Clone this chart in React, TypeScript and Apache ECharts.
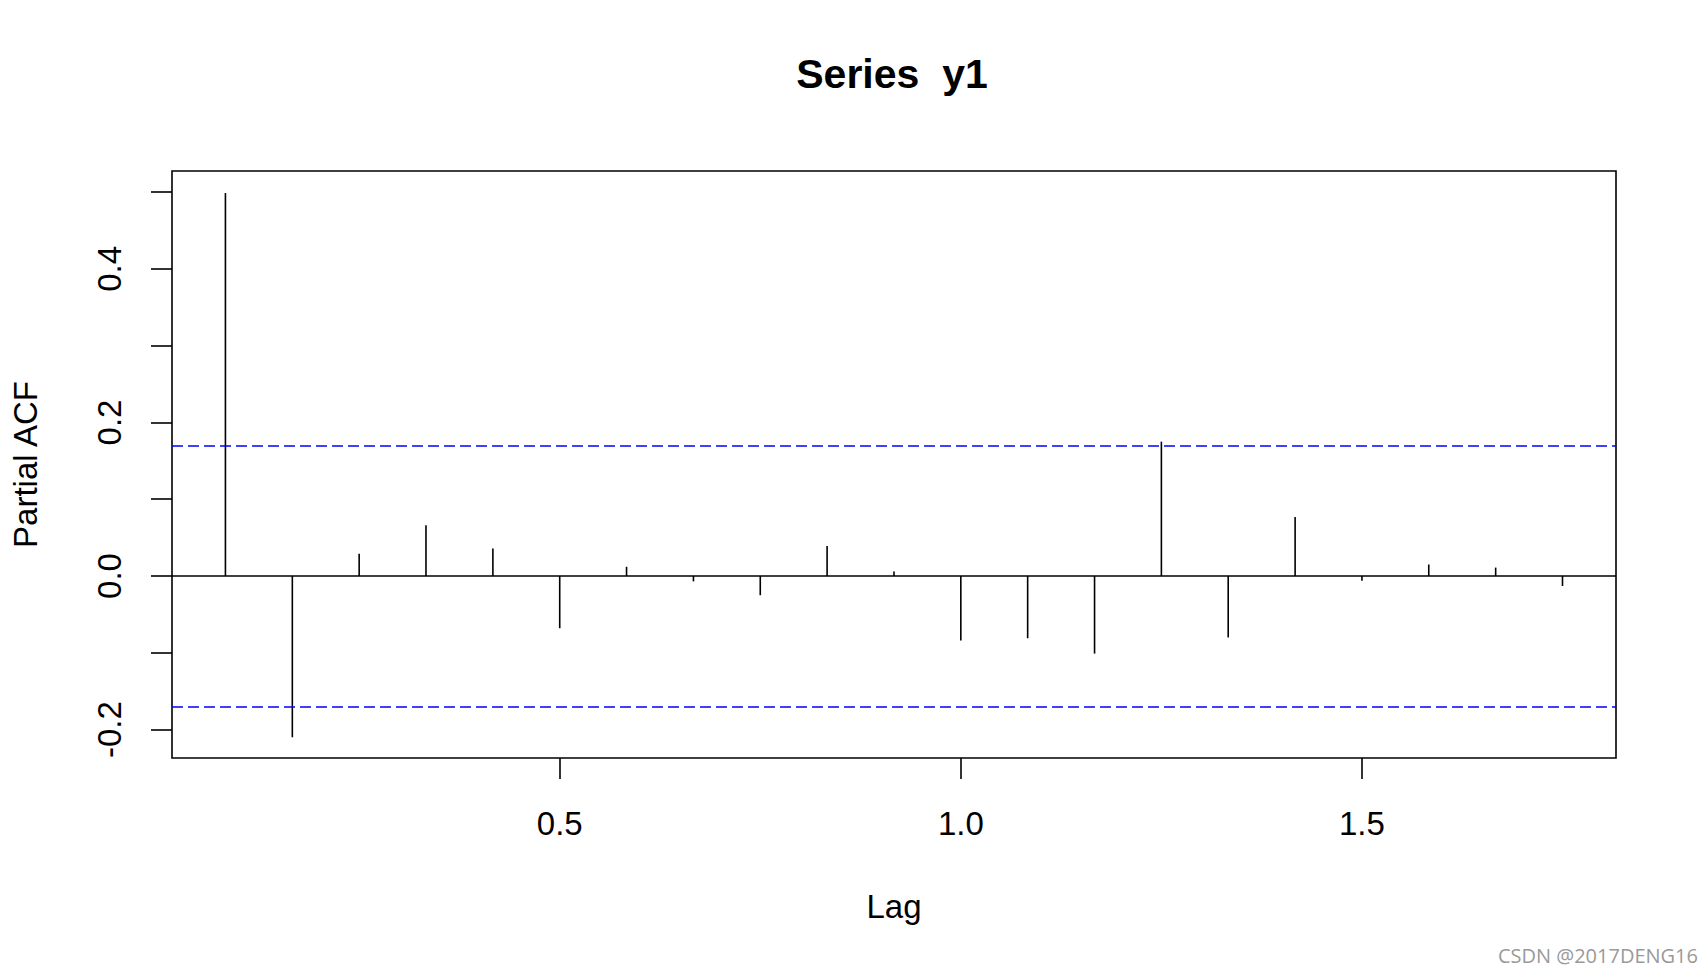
import React, { useEffect, useRef } from "react";
import * as echarts from "echarts";

const LAGS = [
  0.0833, 0.1667, 0.25, 0.3333, 0.4167, 0.5, 0.5833, 0.6667, 0.75, 0.8333, 0.9167,
  1.0, 1.0833, 1.1667, 1.25, 1.3333, 1.4167, 1.5, 1.5833, 1.6667, 1.75,
];
const PACF = [
  0.499, -0.21, 0.029, 0.066, 0.036, -0.068, 0.012, -0.007, -0.025, 0.039, 0.006,
  -0.084, -0.081, -0.101, 0.175, -0.08, 0.077, -0.006, 0.015, 0.011, -0.013,
];
const CONF_LIMIT = 0.1665;
const X_TICKS = [0.5, 1.0, 1.5];
const Y_TICKS = [-0.2, -0.1, 0, 0.1, 0.2, 0.3, 0.4, 0.5];
const Y_LABELS = [-0.2, 0, 0.2, 0.4];
const X_RANGE = [0.0167, 1.8167];
const Y_RANGE = [-0.237, 0.5275];
const TITLE = "Series  y1";
const X_NAME = "Lag";
const Y_NAME = "Partial ACF";
const WATERMARK = "CSDN @2017DENG16";

const FONT = "Liberation Sans, Arial, sans-serif";
const LW = 1.6;

export default function App() {
  const ref = useRef<HTMLDivElement>(null);

  useEffect(() => {
    if (!ref.current) return;
    const chart = echarts.init(ref.current, undefined, { renderer: "svg" });
    const data = LAGS.map((l, i) => [l, PACF[i]]);
    const option: any = {
      animation: false,
      backgroundColor: "#ffffff",
      title: {
        text: TITLE,
        left: 892,
        top: 53,
        padding: 0,
        textAlign: "center",
        textStyle: { fontFamily: FONT, fontSize: 41, fontWeight: "bold", color: "#000" },
      },
      grid: {
        left: 172,
        top: 171,
        right: 89,
        bottom: 216,
        show: true,
        borderColor: "#000",
        borderWidth: LW,
        backgroundColor: "transparent",
        containLabel: false,
      },
      xAxis: {
        type: "value",
        min: X_RANGE[0],
        max: X_RANGE[1],
        name: X_NAME,
        nameLocation: "middle",
        nameGap: 132,
        nameTextStyle: { fontFamily: FONT, fontSize: 33, color: "#000" },
        axisLine: { show: false, onZero: false },
        splitLine: { show: false },
        axisTick: {
          show: true,
          customValues: X_TICKS,
          length: 21,
          lineStyle: { color: "#000", width: LW },
        },
        axisLabel: {
          customValues: X_TICKS,
          formatter: (v: number) => v.toFixed(1),
          fontFamily: FONT,
          fontSize: 33,
          color: "#000",
          margin: 49,
        },
      },
      yAxis: {
        type: "value",
        min: Y_RANGE[0],
        max: Y_RANGE[1],
        name: Y_NAME,
        nameLocation: "middle",
        nameGap: 130,
        nameTextStyle: { fontFamily: FONT, fontSize: 33, color: "#000" },
        axisLine: { show: false, onZero: false },
        splitLine: { show: false },
        axisTick: {
          show: true,
          customValues: Y_TICKS,
          length: 21,
          lineStyle: { color: "#000", width: LW },
        },
        axisLabel: {
          customValues: Y_LABELS,
          formatter: (v: number) => v.toFixed(1),
          rotate: 90,
          fontFamily: FONT,
          fontSize: 33,
          color: "#000",
          margin: 46,
        },
      },
      series: [
        {
          type: "custom",
          data,
          encode: { x: 0, y: 1 },
          clip: false,
          renderItem: (params: any, api: any) => {
            const p0 = api.coord([api.value(0), 0]);
            const p1 = api.coord([api.value(0), api.value(1)]);
            return {
              type: "line",
              shape: { x1: p0[0], y1: p0[1], x2: p1[0], y2: p1[1] },
              style: { stroke: "#000", lineWidth: LW },
            };
          },
          markLine: {
            silent: true,
            symbol: "none",
            label: { show: false },
            data: [
              { yAxis: 0, lineStyle: { color: "#000", width: LW, type: "solid" } },
              { yAxis: CONF_LIMIT, lineStyle: { color: "#0000ff", width: LW, type: [11, 5] } },
              { yAxis: -CONF_LIMIT, lineStyle: { color: "#0000ff", width: LW, type: [11, 5] } },
            ],
          },
        },
      ],
      graphic: [
        {
          type: "text",
          x: 1698,
          y: 955,
          style: {
            text: WATERMARK,
            fill: "#9a9a9a",
            font: "20px 'Open Sans', 'Noto Sans', sans-serif",
            textAlign: "right",
            textVerticalAlign: "middle",
          },
        },
      ],
    };
    chart.setOption(option);
    return () => chart.dispose();
  }, []);

  return (
    <div
      ref={ref}
      style={{ position: "fixed", left: 0, top: 0, width: 1705, height: 974, background: "#fff" }}
    />
  );
}
